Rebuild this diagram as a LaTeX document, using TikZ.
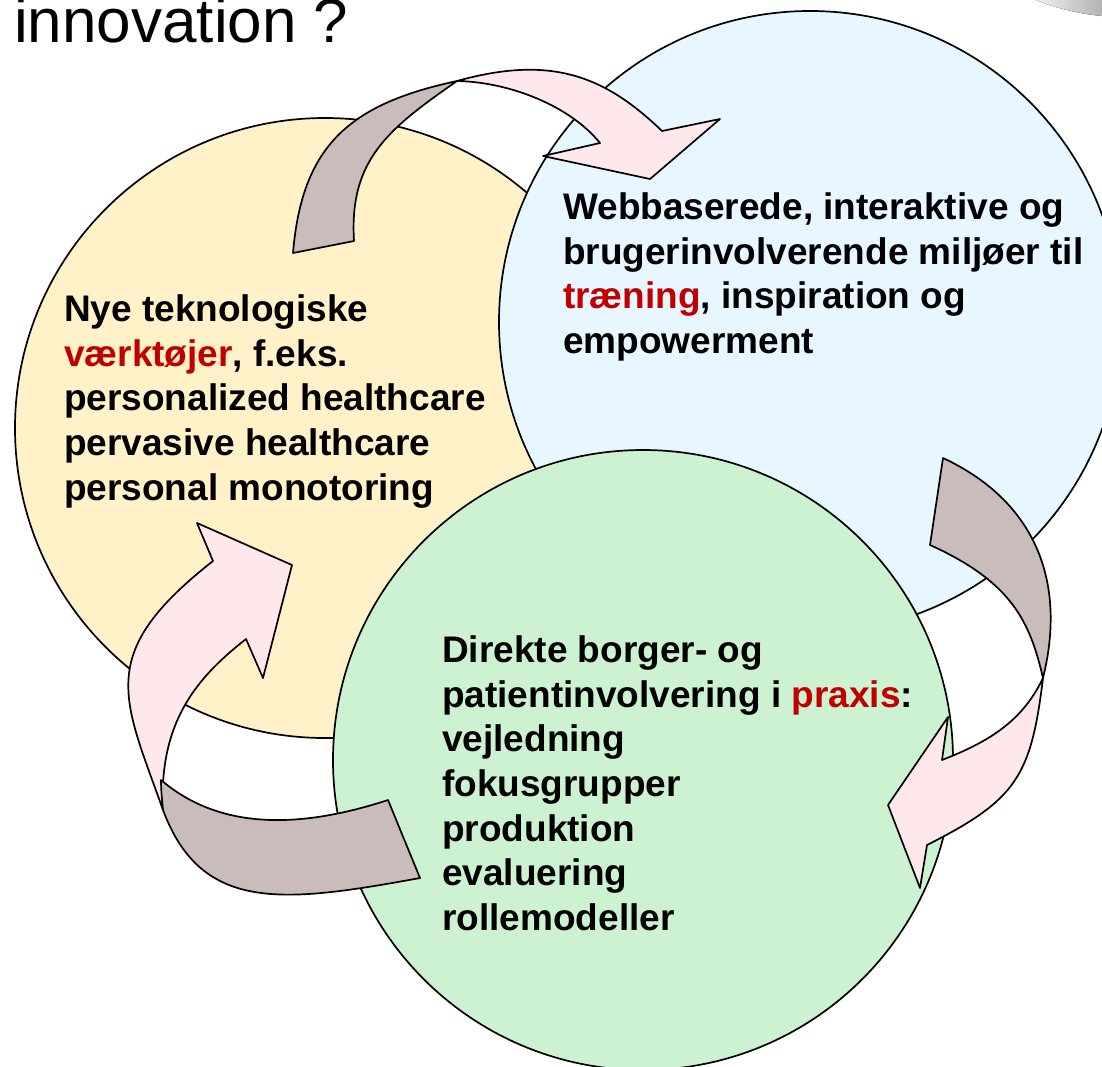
\documentclass[tikz,border=0pt]{standalone}
\usepackage{fontspec}
\setmainfont{Liberation Sans}
\definecolor{yellowfill}{HTML}{FFF2C8}
\definecolor{bluefill}{HTML}{E8F6FF}
\definecolor{greenfill}{HTML}{CDF2D2}
\definecolor{brownfill}{HTML}{CBBCBC}
\definecolor{pinkfill}{HTML}{FFE8EB}
\definecolor{redtxt}{HTML}{C00000}
\begin{document}
\begin{tikzpicture}[x=1pt,y=-1pt,
  circ/.style={draw=black, line width=1.7pt},
  arrowpart/.style={draw=black, line width=1.7pt, line join=round},
  bodytext/.style={anchor=base west, inner sep=0pt, font=\fontsize{37}{44}\selectfont\bfseries},
  titletext/.style={anchor=base west, inner sep=0pt, font=\fontsize{62}{70}\selectfont}]
\useasboundingbox (0,0) rectangle (1102,1066);
\clip (0,0) rectangle (1102,1066);
\fill[white] (0,0) rectangle (1102,1066);

% grey shape in the top right corner
\fill[left color=gray!12, right color=gray!60] (1036,0) .. controls (1055,8) and (1080,14) .. (1102,16) -- (1102,0) -- cycle;

% circles
\filldraw[circ, fill=yellowfill] (325,428) circle[radius=310pt];
\filldraw[circ, fill=bluefill] (810,322) circle[radius=311pt];
\filldraw[circ, fill=greenfill] (643,760) circle[radius=310pt];

% arrow 1 (top)
\coordinate (a1t) at (457,81);
\filldraw[arrowpart, fill=brownfill] (293,253) .. controls (302,145) and (350,104) .. (a1t)
  .. controls (388,129) and (349,160) .. (354,241) -- cycle;
\filldraw[arrowpart, fill=pinkfill] (a1t) .. controls (550,55) and (604,75) .. (662,131)
  -- (720,119) -- (650,179) -- (543,156) -- (600,143)
  .. controls (570,106) and (510,82) .. (a1t) -- cycle;

% arrow 2 (right)
\coordinate (a2t) at (1043,678);
\filldraw[arrowpart, fill=brownfill] (943,458) .. controls (1035,501) and (1067,581) .. (a2t)
  .. controls (1030,622) and (1012,582) .. (930,545) -- cycle;
\filldraw[arrowpart, fill=pinkfill] (a2t) .. controls (1031,777) and (1016,800) .. (927,845)
  -- (920,888) -- (888,805) -- (948,717) -- (942,760)
  .. controls (988,742) and (1022,722) .. (a2t) -- cycle;

% arrow 3 (bottom left)
\coordinate (a3t) at (163,810);
\coordinate (a3j) at (161,780);
\filldraw[arrowpart, fill=pinkfill] (213,561) .. controls (94.5,654) and (123,697) .. (a3t)
  .. controls (158.5,720) and (199,676) .. (246,639)
  -- (263,678) -- (292,565) -- (197,523) -- cycle;
\filldraw[arrowpart, fill=brownfill] (388,800) .. controls (290,832) and (215,826) .. (a3j)
  .. controls (161,790) and (162,800) .. (a3t)
  .. controls (201.5,913) and (283,903) .. (420,878) -- cycle;

% title
\node[titletext] (title) at (14,42.7) {innovation ?};

% yellow block
\node[bodytext] (y1) at (64,321.7) {Nye teknologiske};
\node[bodytext] (y2) at (64,366.3) {\textcolor{redtxt}{værktøjer}, f.eks.};
\node[bodytext] (y3) at (64,410.9) {personalized healthcare};
\node[bodytext] (y4) at (64,455.5) {pervasive healthcare};
\node[bodytext] (y5) at (64,500.1) {personal monotoring};

% blue block
\node[bodytext] (b1) at (563,219.3) {Webbaserede, interaktive og};
\node[bodytext] (b2) at (563,264.0) {brugerinvolverende miljøer til};
\node[bodytext] (b3) at (563,308.6) {\textcolor{redtxt}{træning}, inspiration og};
\node[bodytext] (b4) at (563,353.2) {empowerment};

% green block
\node[bodytext] (g1) at (442,662.7) {Direkte borger- og};
\node[bodytext] (g2) at (442,707.3) {patientinvolvering i \textcolor{redtxt}{praxis}:};
\node[bodytext] (g3) at (442,751.9) {vejledning};
\node[bodytext] (g4) at (442,796.5) {fokusgrupper};
\node[bodytext] (g5) at (442,841.1) {produktion};
\node[bodytext] (g6) at (442,885.7) {evaluering};
\node[bodytext] (g7) at (442,930.3) {rollemodeller};
\end{tikzpicture}
\end{document}
